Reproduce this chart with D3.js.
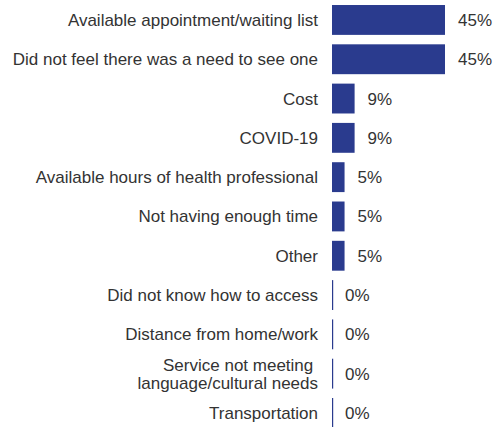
<!DOCTYPE html>
<html><head><meta charset="utf-8">
<script src="https://cdn.jsdelivr.net/npm/d3@7"></script>
<style>body{margin:0;background:#fff}svg{display:block}</style>
</head><body><svg id="c" width="494" height="427"></svg>
<script>
const categories = [
  "Available appointment/waiting list",
  "Did not feel there was a need to see one",
  "Cost",
  "COVID-19",
  "Available hours of health professional",
  "Not having enough time",
  "Other",
  "Did not know how to access",
  "Distance from home/work",
  "Service not meeting \nlanguage/cultural needs",
  "Transportation"
];
const values = [45, 45, 9, 9, 5, 5, 5, 0, 0, 0, 0];
const valueLabels = ["45%","45%","9%","9%","5%","5%","5%","0%","0%","0%","0%"];

const svg = d3.select("#c");
const x0 = 332;
const x = d3.scaleLinear().domain([0, 45]).range([x0, 445]);
const y = d3.scaleBand().domain(categories).range([0.3, 432.6]).paddingInner(0.24).paddingOuter(0.12);
const font = "'Liberation Sans', Arial, sans-serif";
const textColor = "#333333";
const barColor = "#2a3b8e";

const rows = categories.map((c, i) => ({c, v: values[i], l: valueLabels[i]}));

svg.selectAll("rect.bar").data(rows).enter().append("rect")
  .attr("x", x(0))
  .attr("y", d => y(d.c))
  .attr("width", d => Math.max(x(d.v) - x(0), 1.2))
  .attr("height", y.bandwidth())
  .attr("fill", barColor);

svg.selectAll("text.val").data(rows).enter().append("text")
  .attr("x", d => x(d.v) + 13)
  .attr("y", d => y(d.c) + y.bandwidth() / 2)
  .attr("dy", "0.35em")
  .attr("font-family", font).attr("font-size", 17)
  .attr("fill", textColor)
  .text(d => d.l);

const lab = svg.selectAll("text.cat").data(rows).enter().append("text")
  .attr("text-anchor", "end")
  .attr("font-family", font).attr("font-size", 17)
  .attr("fill", textColor)
  .attr("xml:space", "preserve")
  .style("white-space", "pre");
lab.each(function(d) {
  const lines = d.c.split("\n");
  const cy = y(d.c) + y.bandwidth() / 2;
  const lh = 18;
  const t = d3.select(this);
  lines.forEach((ln, k) => {
    t.append("tspan")
      .attr("x", 318)
      .attr("y", cy + (k - (lines.length - 1) / 2) * lh)
      .attr("dy", "0.35em")
      .text(ln);
  });
});
</script></body></html>
